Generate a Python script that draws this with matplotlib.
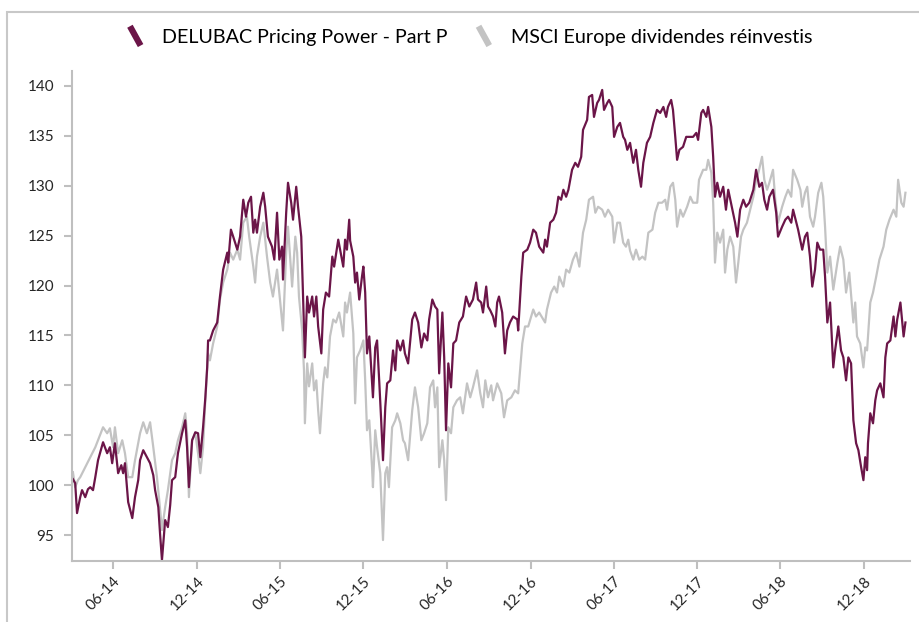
import matplotlib
matplotlib.use("Agg")
import matplotlib.pyplot as plt
import matplotlib.dates as mdates
from matplotlib.legend_handler import HandlerBase
from matplotlib.lines import Line2D
from matplotlib.patches import Rectangle
import pandas as pd

plt.rcParams['font.family'] = ['Lato', 'DejaVu Sans']

# dates are stored as days counted from 2014-06-01
base_date = pd.Timestamp("2014-06-01")

delubac_days = [
    -88, -83, -79, -72, -68, -61, -55, -50, -44, -39,
    -33, -22, -13, -7, -2, 4, 11, 18, 22, 26,
    33, 42, 48, 55, 59, 66, 74, 81, 88, 92,
    99, 103, 107, 114, 120, 125, 129, 136, 142, 151,
    158, 162, 166, 173, 180, 186, 191, 197, 202, 206,
    208, 212, 219, 228, 234, 241, 250, 252, 258, 263,
    272, 278, 285, 291, 296, 302, 307, 311, 315, 322,
    329, 333, 339, 348, 353, 359, 364, 370, 372, 379,
    383, 390, 394, 401, 405, 412, 416, 420, 425, 429,
    436, 440, 445, 449, 456, 460, 466, 473, 480, 484,
    493, 504, 508, 512, 517, 519, 526, 530, 534, 539,
    545, 548, 552, 556, 561, 567, 569, 574, 578, 583,
    587, 591, 596, 600, 607, 613, 618, 622, 629, 635,
    639, 646, 655, 661, 668, 675, 681, 688, 692, 699,
    705, 710, 714, 721, 725, 729, 734, 740, 745, 751,
    758, 766, 773, 780, 788, 795, 799, 806, 810, 817,
    821, 826, 832, 837, 841, 845, 852, 858, 863, 869,
    876, 885, 887, 894, 898, 907, 913, 920, 926, 933,
    942, 946, 950, 957, 964, 970, 975, 981, 986, 992,
    997, 1005, 1012, 1018, 1025, 1029, 1038, 1042, 1049, 1053,
    1060, 1064, 1071, 1075, 1082, 1086, 1093, 1097, 1104, 1110,
    1117, 1121, 1126, 1132, 1139, 1145, 1150, 1156, 1161, 1169,
    1176, 1183, 1191, 1198, 1205, 1211, 1215, 1222, 1226, 1231,
    1235, 1240, 1248, 1255, 1261, 1270, 1277, 1281, 1288, 1292,
    1299, 1303, 1310, 1314, 1318, 1323, 1329, 1336, 1342, 1347,
    1356, 1362, 1367, 1373, 1380, 1386, 1393, 1402, 1408, 1415,
    1421, 1426, 1432, 1437, 1445, 1452, 1456, 1465, 1472, 1478,
    1485, 1489, 1496, 1500, 1509, 1515, 1520, 1526, 1531, 1537,
    1542, 1548, 1555, 1559, 1564, 1570, 1577, 1581, 1588, 1594,
    1599, 1605, 1610, 1616, 1621, 1627, 1632, 1638, 1643, 1647,
    1651, 1653, 1658, 1664, 1669, 1673, 1680, 1687, 1691, 1695,
    1702, 1709, 1713, 1717, 1724, 1731, 1735,
]
delubac = [
    100.6, 100.2, 97.2, 98.8, 99.5, 98.8, 99.6, 99.8, 99.5, 100.8,
    102.5, 104.3, 103.2, 103.8, 102.2, 104.2, 101.2, 102.0, 101.2, 102.2,
    98.3, 96.7, 98.8, 100.5, 102.5, 103.5, 102.8, 102.2, 101.0, 99.5,
    97.8, 95.0, 92.5, 96.5, 95.8, 98.0, 100.5, 100.8, 103.2, 105.2,
    106.5, 103.8, 99.8, 104.5, 105.3, 105.2, 102.8, 105.8, 108.8, 111.8,
    114.5, 114.5, 115.5, 116.3, 118.9, 121.6, 123.3, 122.3, 125.6, 124.9,
    123.6, 124.9, 128.6, 126.9, 128.3, 128.9, 125.3, 126.6, 125.3, 127.9,
    129.3, 127.9, 124.9, 123.9, 122.6, 127.3, 122.6, 123.9, 120.6, 127.3,
    130.3, 128.3, 126.6, 129.9, 127.9, 124.9, 118.9, 112.8, 118.9, 117.3,
    118.9, 116.9, 118.9, 115.9, 113.2, 117.6, 119.3, 118.9, 122.9, 121.9,
    124.6, 121.9, 124.6, 123.6, 126.6, 124.5, 122.9, 120.3, 121.3, 118.6,
    120.9, 121.9, 119.3, 113.2, 114.9, 110.2, 108.8, 113.8, 114.5, 110.2,
    106.5, 102.5, 107.8, 110.2, 110.5, 113.5, 111.5, 114.5, 113.5, 114.5,
    113.2, 112.2, 116.6, 117.3, 116.3, 113.8, 115.2, 114.5, 116.6, 118.6,
    117.9, 117.6, 111.2, 117.3, 112.8, 105.5, 112.2, 109.8, 114.2, 114.5,
    116.3, 116.9, 118.9, 117.9, 118.6, 120.3, 118.6, 118.3, 117.3, 119.9,
    117.9, 117.5, 116.9, 115.9, 118.3, 118.9, 117.3, 113.2, 115.5, 116.3,
    116.9, 116.6, 115.5, 120.9, 123.3, 123.6, 124.3, 125.6, 125.3, 123.9,
    123.3, 124.6, 123.9, 126.3, 126.6, 127.3, 128.9, 128.6, 129.6, 128.9,
    129.6, 131.6, 132.3, 131.9, 132.9, 135.6, 136.6, 138.9, 139.1, 136.9,
    138.3, 138.6, 139.6, 137.6, 138.3, 138.6, 137.9, 134.9, 135.9, 136.3,
    134.9, 134.6, 133.6, 134.3, 132.3, 133.6, 131.6, 129.9, 132.3, 134.3,
    134.9, 136.3, 137.6, 137.3, 137.9, 136.9, 137.9, 138.6, 137.6, 134.9,
    132.6, 133.6, 133.9, 134.9, 134.9, 134.9, 135.3, 134.6, 137.3, 137.6,
    136.9, 137.9, 135.9, 132.9, 128.9, 130.3, 128.9, 129.9, 127.6, 129.6,
    127.6, 126.3, 124.9, 127.6, 128.6, 127.9, 128.3, 129.6, 131.6, 129.9,
    130.3, 128.6, 127.6, 128.9, 129.6, 127.3, 124.9, 125.9, 126.6, 126.9,
    126.3, 127.6, 126.3, 125.6, 123.6, 124.9, 125.3, 122.9, 119.9, 121.6,
    124.3, 123.6, 123.6, 120.9, 116.3, 118.3, 111.8, 113.5, 115.9, 113.5,
    112.8, 110.5, 112.8, 112.2, 106.5, 104.2, 103.5, 101.8, 100.5, 102.8,
    101.5, 104.2, 107.2, 106.2, 108.5, 109.5, 110.2, 108.8, 112.8, 114.2,
    114.5, 116.9, 114.9, 116.6, 118.3, 114.9, 116.3,
]

msci_days = [
    -88, -83, -77, -72, -61, -50, -39, -33, -22, -13,
    -7, 0, 4, 11, 20, 26, 33, 42, 48, 59,
    66, 74, 81, 88, 96, 101, 107, 114, 120, 129,
    136, 142, 151, 158, 162, 166, 173, 180, 186, 191,
    197, 202, 208, 212, 219, 228, 234, 241, 250, 256,
    263, 272, 278, 285, 293, 298, 307, 311, 315, 322,
    329, 337, 344, 350, 359, 366, 372, 379, 383, 392,
    399, 403, 407, 414, 418, 420, 425, 429, 436, 440,
    445, 449, 453, 460, 464, 469, 475, 482, 488, 495,
    504, 508, 512, 519, 526, 530, 534, 541, 548, 552,
    556, 561, 567, 569, 574, 578, 585, 591, 596, 600,
    604, 611, 618, 622, 629, 635, 639, 646, 655, 661,
    668, 675, 681, 688, 694, 701, 705, 710, 714, 721,
    725, 729, 734, 740, 745, 753, 760, 766, 775, 782,
    788, 797, 804, 810, 815, 821, 828, 832, 841, 850,
    856, 863, 872, 880, 887, 896, 902, 909, 920, 926,
    933, 942, 946, 950, 959, 966, 972, 977, 986, 992,
    999, 1007, 1014, 1021, 1029, 1036, 1042, 1051, 1056, 1062,
    1071, 1077, 1084, 1093, 1097, 1104, 1110, 1117, 1123, 1128,
    1132, 1139, 1145, 1152, 1159, 1165, 1172, 1181, 1187, 1194,
    1202, 1209, 1213, 1220, 1226, 1231, 1235, 1242, 1248, 1257,
    1264, 1270, 1279, 1283, 1292, 1299, 1303, 1310, 1314, 1318,
    1323, 1329, 1336, 1340, 1345, 1351, 1358, 1364, 1369, 1375,
    1380, 1388, 1395, 1402, 1408, 1413, 1421, 1426, 1432, 1437,
    1445, 1450, 1456, 1465, 1472, 1478, 1485, 1489, 1498, 1505,
    1509, 1515, 1520, 1526, 1533, 1537, 1544, 1551, 1555, 1559,
    1564, 1570, 1577, 1586, 1592, 1599, 1605, 1612, 1621, 1625,
    1629, 1636, 1643, 1647, 1651, 1658, 1664, 1671, 1678, 1687,
    1693, 1700, 1709, 1715, 1719, 1726, 1731, 1735,
]
msci = [
    101.3, 99.8, 100.5, 100.8, 101.8, 102.8, 103.8, 104.5, 105.8, 105.2,
    105.7, 103.8, 105.8, 103.2, 104.5, 103.2, 100.8, 100.8, 102.5, 105.2,
    106.3, 105.2, 106.3, 103.8, 100.8, 98.5, 95.5, 97.8, 99.5, 102.5,
    103.2, 104.5, 105.8, 107.2, 105.2, 98.8, 104.5, 105.2, 103.2, 101.2,
    103.8, 108.5, 113.2, 112.5, 114.2, 115.9, 118.6, 120.3, 121.6, 123.3,
    122.6, 123.6, 122.6, 126.3, 126.9, 124.9, 121.9, 120.3, 122.9, 124.9,
    126.3, 122.9, 120.3, 118.9, 121.6, 118.3, 115.5, 123.3, 125.9, 119.9,
    124.9, 123.3, 118.9, 115.5, 111.5, 106.2, 112.2, 109.9, 112.2, 109.5,
    110.5, 107.5, 105.2, 110.2, 111.8, 110.8, 114.9, 116.6, 116.3, 117.3,
    114.9, 118.3, 117.3, 119.3, 115.2, 108.2, 112.8, 113.5, 114.5, 110.5,
    105.5, 106.5, 101.8, 99.8, 105.5, 103.8, 101.2, 94.5, 101.2, 101.8,
    99.8, 105.8, 106.5, 107.2, 106.2, 104.5, 104.2, 102.5, 107.5, 109.8,
    107.8, 104.5, 105.2, 106.2, 109.8, 110.5, 107.8, 109.8, 101.8, 104.5,
    102.5, 98.5, 105.8, 105.2, 107.8, 108.5, 108.8, 107.2, 110.2, 108.8,
    109.8, 111.5, 109.2, 107.8, 110.5, 108.8, 110.0, 108.5, 110.2, 109.2,
    106.8, 108.5, 108.8, 109.5, 109.2, 114.2, 115.9, 115.9, 117.6, 116.9,
    117.3, 116.6, 116.3, 117.6, 119.3, 119.9, 119.3, 120.9, 119.9, 121.6,
    121.3, 122.6, 123.3, 121.9, 125.3, 126.6, 128.6, 128.9, 127.3, 127.9,
    127.6, 126.9, 127.6, 126.9, 124.3, 126.3, 126.3, 124.3, 123.9, 124.6,
    123.5, 122.6, 123.6, 122.6, 122.9, 122.6, 125.3, 125.6, 127.3, 128.3,
    128.3, 128.6, 127.6, 129.9, 130.3, 128.6, 125.9, 127.6, 126.9, 127.9,
    128.9, 128.3, 128.3, 130.6, 131.6, 131.6, 132.6, 131.3, 128.3, 122.3,
    125.3, 124.3, 125.6, 121.3, 123.6, 124.9, 123.9, 120.3, 122.3, 124.9,
    125.6, 126.3, 127.6, 128.9, 130.6, 131.3, 132.9, 130.6, 129.6, 130.3,
    131.6, 128.6, 126.3, 127.9, 128.9, 129.6, 128.9, 131.6, 130.6, 129.6,
    127.9, 129.3, 129.9, 126.9, 125.9, 126.9, 129.3, 130.3, 128.9, 125.9,
    121.3, 122.9, 119.6, 122.3, 123.9, 122.6, 119.3, 121.3, 116.3, 118.3,
    114.9, 114.2, 111.8, 113.8, 113.5, 118.3, 119.3, 120.9, 122.6, 123.9,
    125.6, 126.6, 127.6, 126.9, 130.6, 128.3, 127.9, 129.3,
]

series_names = ["DELUBAC Pricing Power - Part P", "MSCI Europe dividendes réinvestis"]
series_colors = ["#6b1548", "#c3c3c3"]
y_ticks = [95, 100, 105, 110, 115, 120, 125, 130, 135, 140]


class DiagonalHandler(HandlerBase):
    # legend key drawn as a short thick slash
    def create_artists(self, legend, orig_handle, xdescent, ydescent,
                       width, height, fontsize, trans):
        x0 = -xdescent + width * 0.2
        x1 = -xdescent + width * 0.8
        y0 = -ydescent + height * 1.2
        y1 = -ydescent - height * 0.2
        line = Line2D([x0, x1], [y0, y1], color=orig_handle.get_color(),
                      lw=4.5, solid_capstyle='butt')
        line.set_transform(trans)
        return [line]


delubac_dates = base_date + pd.to_timedelta(delubac_days, unit="D")
msci_dates = base_date + pd.to_timedelta(msci_days, unit="D")

fig = plt.figure(figsize=(9.2, 6.22), dpi=100)
ax = fig.add_axes([72 / 920, 1 - 561 / 622, 838 / 920, 490 / 622])

l2, = ax.plot(msci_dates, msci, color=series_colors[1], lw=1.6)
l1, = ax.plot(delubac_dates, delubac, color=series_colors[0], lw=1.6)

ax.set_xlim(base_date - pd.Timedelta(days=90), base_date + pd.Timedelta(days=1745))
ax.set_ylim(92.4, 141.5)
ax.set_yticks(y_ticks)
ax.xaxis.set_major_locator(mdates.MonthLocator(bymonth=[6, 12]))
ax.xaxis.set_major_formatter(mdates.DateFormatter('%m-%y'))

for s in ['top', 'right']:
    ax.spines[s].set_visible(False)
for s in ['left', 'bottom']:
    ax.spines[s].set_color('#bfbfbf')
    ax.spines[s].set_linewidth(1.5)
ax.tick_params(axis='both', colors='#bfbfbf', width=1.5, length=6,
               labelcolor='#262626', labelsize=11)
ax.tick_params(axis='y', pad=7)
plt.setp(ax.get_xticklabels(), rotation=45, ha='right', rotation_mode='anchor')

fig.legend([l1, l2], series_names, loc='center', bbox_to_anchor=(0.51, 0.94),
           ncol=2, frameon=False, fontsize=14.2, handlelength=0.9,
           handletextpad=0.9, columnspacing=1.4,
           handler_map={Line2D: DiagonalHandler()})

# thin grey frame around the chart area
fig.patches.append(Rectangle((7 / 920, -0.05), 1.1, 1 - 12 / 622 + 0.05,
                             transform=fig.transFigure, fill=False,
                             edgecolor='#c8c8c8', lw=1.5))

fig.savefig("out.png", dpi=100)
